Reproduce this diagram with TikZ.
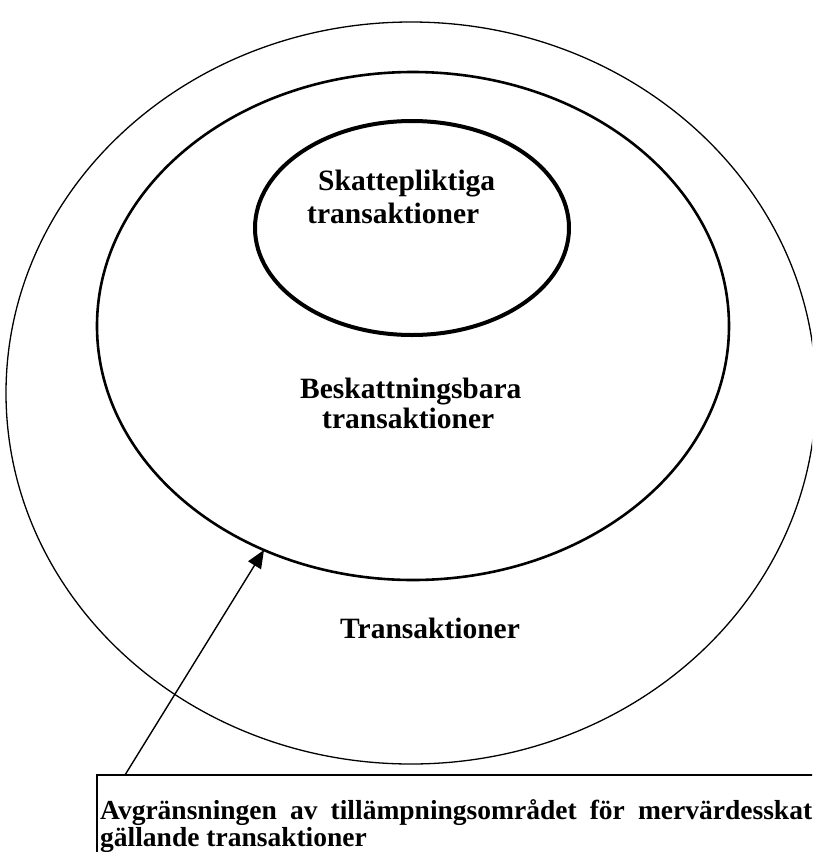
\documentclass[tikz,border=0pt]{standalone}
\usepackage{fontspec}
\setmainfont{Liberation Serif}
\usetikzlibrary{arrows.meta}
\begin{document}
\begin{tikzpicture}[x=1pt,y=-1pt,
  lbl/.style={anchor=base west,inner sep=0pt,font=\fontsize{29.5}{33}\selectfont\bfseries},
  boxlbl/.style={anchor=base west,inner sep=0pt,font=\fontsize{27.5}{31}\selectfont\bfseries},
  outerring/.style={draw=black,line width=1.3pt},
  midring/.style={draw=black,line width=2.6pt},
  innerring/.style={draw=black,line width=4pt},
  framebox/.style={draw=black,line width=1.8pt},
  pointer/.style={draw=black,line width=1.4pt,-{Triangle[length=18pt,width=15pt]}}]
\useasboundingbox (0,0) rectangle (812,852);
\clip (0,0) rectangle (812,852);
% ellipses
\draw[outerring] (411,393) ellipse [x radius=405, y radius=371];
\draw[midring] (413,326) ellipse [x radius=316, y radius=254];
\draw[innerring] (412,228) ellipse [x radius=157, y radius=107];
% labels
\node[lbl] (skatt1) at (318,190) {Skattepliktiga};
\node[lbl] (skatt2) at (307,223) {transaktioner};
\node[lbl] (besk1) at (300,398) {Beskattningsbara};
\node[lbl] (besk2) at (322,428) {transaktioner};
\node[lbl] (trans) at (340,638) {Transaktioner};
% bottom box
\draw[framebox] (97,900) -- (97,775) -- (830,775);
\node[boxlbl] (box1) at (100,819) {\makebox[712pt][s]{Avgränsningen av tillämpningsområdet för mervärdesskat}};
\node[boxlbl] (box2) at (100,846) {gällande transaktioner};
% arrow
\coordinate (arrowstart) at (125,775);
\coordinate (arrowtip) at (264,550);
\draw[pointer] (arrowstart) -- (arrowtip);
\end{tikzpicture}
\end{document}
